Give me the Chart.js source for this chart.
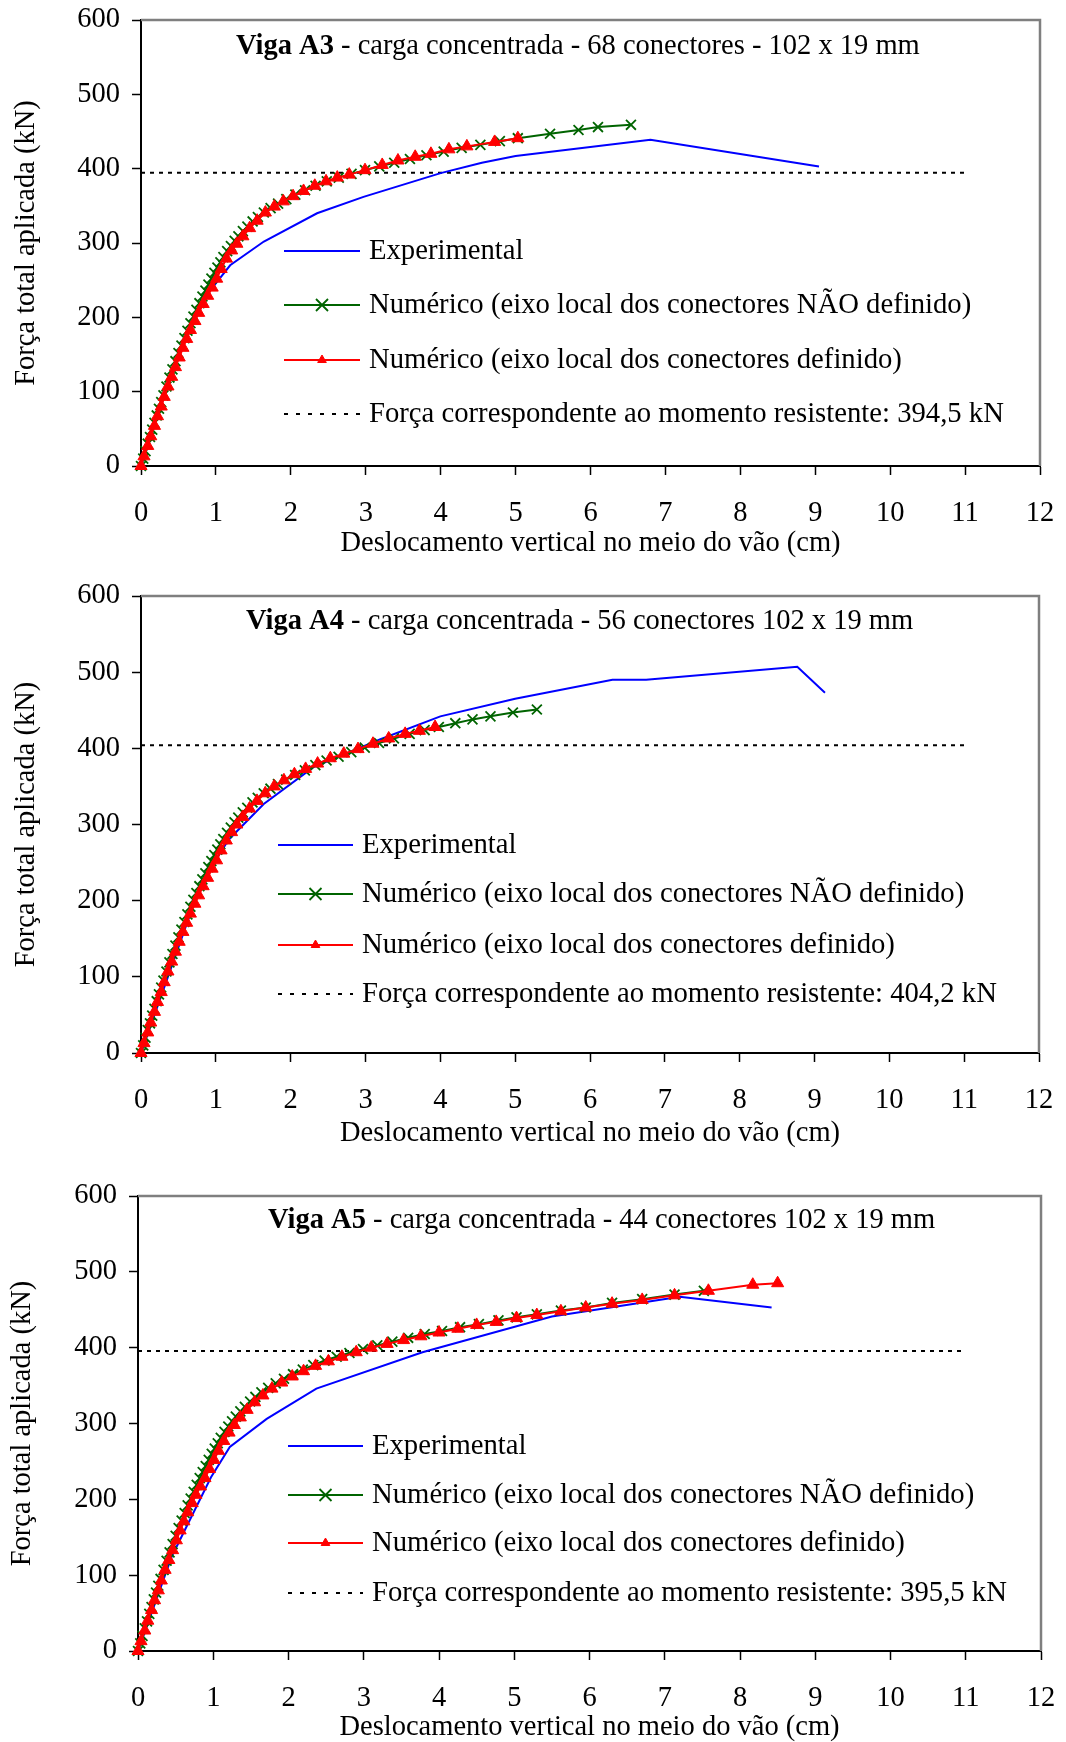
<!DOCTYPE html>
<html>
<head>
<meta charset="utf-8">
<script src="https://cdn.jsdelivr.net/npm/chart.js@4.4.1/dist/chart.umd.min.js"></script>
<style>
  html, body { margin: 0; padding: 0; background: #fff; overflow: hidden; width: 1066px; height: 1742px; }
  .box { position: absolute; left: 0; width: 1066px; }
</style>
</head>
<body>
<div class="box" style="top:0;height:575px"><canvas id="vigaA3"></canvas></div>
<div class="box" style="top:575px;height:590px"><canvas id="vigaA4"></canvas></div>
<div class="box" style="top:1165px;height:594px"><canvas id="vigaA5"></canvas></div>
<script>
/* --- data --- */

const xTicks = [0, 1, 2, 3, 4, 5, 6, 7, 8, 9, 10, 11, 12];
const yTicks = [0, 100, 200, 300, 400, 500, 600];

const xTitle = 'Deslocamento vertical no meio do vão (cm)';
const yTitle = 'Força total aplicada (kN)';
const seriesLabels = [
    'Experimental',
    'Numérico (eixo local dos conectores NÃO definido)',
    'Numérico (eixo local dos conectores definido)'
];
const refLabel = 'Força correspondente ao momento resistente: ';
const refLineEnd = 11;

// Viga A3
const a3Title = ['Viga A3', ' - carga concentrada - 68 conectores - 102 x 19 mm'];
const a3Moment = 394.5;
const a3ExpX = [0, 0.44, 0.70, 0.93, 1.19, 1.64, 2.35, 2.97, 4.0, 4.55, 5.0, 6.8, 9.05];
const a3ExpY = [0, 134, 201, 237, 270, 302, 340, 362, 394, 408, 417, 439, 403];
const a3NaoX = [0, 0.03, 0.06, 0.09, 0.12, 0.15, 0.18, 0.21, 0.24, 0.27, 0.30, 0.34, 0.38, 0.42, 0.46, 0.50,
    0.54, 0.58, 0.62, 0.66, 0.70, 0.74, 0.78, 0.82, 0.86, 0.90, 0.94, 0.98, 1.02, 1.06, 1.10, 1.15, 1.20,
    1.25, 1.30, 1.36, 1.42, 1.49, 1.56, 1.64, 1.73, 1.83, 1.94, 2.06, 2.19, 2.33, 2.48, 2.64, 2.81, 2.99,
    3.18, 3.38, 3.59, 3.81, 4.04, 4.28, 4.53, 4.79, 5.03, 5.46, 5.84, 6.10, 6.54];
const a3NaoY = [0, 10, 20, 30, 39, 49, 58, 68, 77, 86, 95, 107, 119, 130, 141, 152,
    162, 172, 182, 192, 201, 210, 219, 228, 236, 244, 252, 260, 267, 274, 281, 289, 296,
    303, 309, 316, 322, 329, 335, 341, 347, 353, 359, 365, 371, 377, 383, 388, 393, 398,
    403, 408, 413, 418, 423, 428, 432, 437, 441, 447, 452, 456, 459];
const a3DefX = [0, 0.04, 0.09, 0.13, 0.18, 0.22, 0.27, 0.31, 0.36, 0.41, 0.46, 0.51, 0.56, 0.61, 0.66, 0.72,
    0.77, 0.83, 0.89, 0.95, 1.01, 1.07, 1.14, 1.21, 1.28, 1.36, 1.45, 1.55, 1.66, 1.78, 1.90, 2.03, 2.17,
    2.32, 2.47, 2.62, 2.78, 2.99, 3.22, 3.43, 3.66, 3.87, 4.11, 4.35, 4.72, 5.03];
const a3DefY = [0, 13, 27, 40, 54, 67, 80, 93, 107, 120, 133, 146, 159, 171, 183, 195,
    206, 218, 229, 240, 252, 265, 279, 290, 299, 309, 320, 330, 341, 349, 356, 363, 370,
    377, 383, 388, 392, 398, 405, 411, 416, 420, 426, 430, 436, 441];

// Viga A4
const a4Title = ['Viga A4', ' - carga concentrada - 56 conectores 102 x 19 mm'];
const a4Moment = 404.2;
const a4ExpX = [0, 0.45, 0.80, 1.17, 1.64, 2.30, 3.20, 4.0, 5.0, 6.3, 6.75, 8.77, 9.14];
const a4ExpY = [0, 125, 222, 280, 327, 375, 412, 442, 465, 490, 490, 507, 473];
const a4NaoX = [0, 0.03, 0.06, 0.09, 0.12, 0.15, 0.18, 0.21, 0.24, 0.27, 0.30, 0.34, 0.38, 0.42, 0.46, 0.50,
    0.54, 0.58, 0.62, 0.66, 0.70, 0.74, 0.78, 0.82, 0.86, 0.90, 0.94, 0.98, 1.02, 1.06, 1.10, 1.15, 1.20,
    1.25, 1.30, 1.36, 1.42, 1.49, 1.56, 1.64, 1.73, 1.83, 1.94, 2.06, 2.19, 2.33, 2.48, 2.64, 2.81, 2.99,
    3.18, 3.38, 3.59, 3.79, 3.98, 4.20, 4.43, 4.67, 4.97, 5.29];
const a4NaoY = [0, 10, 20, 30, 39, 49, 58, 68, 77, 86, 95, 107, 119, 130, 141, 152,
    162, 172, 182, 192, 201, 210, 219, 228, 236, 244, 252, 260, 267, 274, 281, 289, 296,
    303, 309, 316, 322, 329, 335, 341, 347, 353, 359, 365, 371, 378, 384, 389, 395, 401,
    407, 413, 419, 424, 428, 433, 438, 442, 447, 451];
const a4DefX = [0, 0.04, 0.09, 0.13, 0.18, 0.22, 0.27, 0.31, 0.36, 0.41, 0.46, 0.51, 0.56, 0.61, 0.66, 0.72,
    0.77, 0.83, 0.89, 0.95, 1.01, 1.07, 1.14, 1.21, 1.28, 1.36, 1.45, 1.55, 1.66, 1.78, 1.91, 2.05, 2.20,
    2.36, 2.53, 2.71, 2.90, 3.10, 3.31, 3.53, 3.72, 3.93];
const a4DefY = [0, 13, 27, 40, 54, 67, 80, 93, 107, 120, 133, 146, 159, 171, 183, 196,
    207, 219, 230, 242, 253, 266, 279, 290, 300, 310, 321, 331, 341, 350, 358, 366, 373,
    380, 387, 393, 399, 406, 413, 419, 423, 428];

// Viga A5
const a5Title = ['Viga A5', ' - carga concentrada - 44 conectores 102 x 19 mm'];
const a5Moment = 395.5;
const a5ExpX = [0, 0.45, 0.97, 1.22, 1.71, 2.37, 3.78, 5.5, 7.2, 8.42];
const a5ExpY = [0, 125, 229, 269, 306, 346, 394, 441, 467, 453];
const a5NaoX = [0, 0.03, 0.06, 0.09, 0.12, 0.15, 0.18, 0.21, 0.24, 0.27, 0.30, 0.34, 0.38, 0.42, 0.46, 0.50,
    0.54, 0.58, 0.62, 0.66, 0.70, 0.74, 0.78, 0.82, 0.86, 0.90, 0.94, 0.98, 1.02, 1.06, 1.10, 1.15, 1.20,
    1.25, 1.30, 1.36, 1.42, 1.49, 1.56, 1.64, 1.73, 1.83, 1.94, 2.06, 2.19, 2.33, 2.48, 2.64, 2.81, 2.99,
    3.18, 3.38, 3.59, 3.81, 4.04, 4.28, 4.53, 4.79, 5.03, 5.30, 5.62, 5.95, 6.30, 6.70, 7.13, 7.52];
const a5NaoY = [0, 10, 20, 30, 39, 49, 58, 68, 77, 86, 95, 107, 119, 130, 141, 152,
    162, 172, 182, 192, 201, 210, 219, 228, 236, 244, 252, 260, 267, 274, 281, 289, 296,
    303, 309, 316, 322, 329, 335, 341, 347, 353, 359, 365, 371, 377, 383, 388, 393, 398,
    403, 408, 413, 418, 422, 427, 431, 436, 440, 444, 449, 453, 459, 464, 470, 475];
const a5DefX = [0, 0.04, 0.09, 0.13, 0.18, 0.22, 0.27, 0.31, 0.36, 0.41, 0.46, 0.51, 0.56, 0.61, 0.66, 0.72,
    0.77, 0.83, 0.89, 0.95, 1.01, 1.07, 1.14, 1.21, 1.28, 1.36, 1.45, 1.55, 1.66, 1.78, 1.91, 2.05, 2.20,
    2.36, 2.53, 2.71, 2.90, 3.10, 3.31, 3.53, 3.76, 4.00, 4.25, 4.50, 4.76, 5.03, 5.30, 5.62, 5.95, 6.30,
    6.70, 7.13, 7.58, 8.17, 8.50];
const a5DefY = [0, 13, 27, 40, 54, 67, 80, 93, 107, 120, 133, 146, 159, 171, 183, 195,
    206, 217, 228, 240, 252, 264, 277, 288, 298, 308, 318, 328, 337, 346, 354, 362, 369,
    376, 382, 388, 394, 400, 405, 410, 415, 420, 425, 430, 434, 439, 443, 448, 453, 458,
    463, 469, 475, 483, 485];

/* --- drawing --- */

const FONT = '"Liberation Serif", "Times New Roman", serif';
const FS = 28.5;
Chart.defaults.font.family = FONT;
Chart.defaults.color = '#000';

const toPoints = (xs, ys) => xs.map((x, i) => ({ x: x, y: ys[i] }));

// gray top/right frame, black left/bottom come from the axes
const framePlugin = {
    id: 'frame',
    beforeDatasetsDraw(chart) {
        const { ctx, chartArea: a } = chart;
        ctx.save();
        ctx.strokeStyle = '#7f7f7f';
        ctx.lineWidth = 2.5;
        ctx.beginPath();
        ctx.moveTo(a.left, a.top);
        ctx.lineTo(a.right, a.top);
        ctx.lineTo(a.right, a.bottom);
        ctx.stroke();
        ctx.restore();
    }
};

const titlePlugin = {
    id: 'vigaTitle',
    afterDraw(chart, args, opts) {
        const ctx = chart.ctx;
        ctx.save();
        ctx.fillStyle = '#000';
        ctx.textBaseline = 'middle';
        ctx.font = 'bold ' + FS + 'px ' + FONT;
        ctx.fillText(opts.text[0], opts.x, opts.y);
        const w = ctx.measureText(opts.text[0]).width;
        ctx.font = FS + 'px ' + FONT;
        ctx.fillText(opts.text[1], opts.x + w, opts.y);
        ctx.restore();
    }
};

const legendPlugin = {
    id: 'innerLegend',
    afterDraw(chart, args, opts) {
        const ctx = chart.ctx;
        ctx.save();
        chart.data.datasets.forEach((ds, i) => {
            const y = opts.rows[i];
            ctx.beginPath();
            ctx.setLineDash(ds.legendDash || []);
            ctx.strokeStyle = ds.borderColor;
            ctx.lineWidth = ds.borderWidth;
            ctx.moveTo(opts.x0, y);
            ctx.lineTo(opts.x1, y);
            ctx.stroke();
            ctx.setLineDash([]);
            if (ds.pointRadius > 0) {
                ctx.fillStyle = ds.pointBackgroundColor;
                ctx.strokeStyle = ds.pointBorderColor;
                ctx.lineWidth = ds.pointBorderWidth;
                Chart.helpers.drawPoint(ctx, {
                    pointStyle: ds.pointStyle,
                    radius: ds.legendRadius,
                    rotation: 0,
                    borderWidth: ds.pointBorderWidth
                }, (opts.x0 + opts.x1) / 2, y);
            }
            ctx.fillStyle = '#000';
            ctx.font = '28.7px ' + FONT;
            ctx.textBaseline = 'middle';
            ctx.fillText(ds.label, opts.textX, y);
        });
        ctx.restore();
    }
};

function makeBeam(id, cfg) {
    const ctx = document.getElementById(id);
    return new Chart(ctx, {
        type: 'line',
        data: {
            datasets: [{
                label: seriesLabels[0],
                data: toPoints(cfg.expX, cfg.expY),
                borderColor: '#0000ff',
                borderWidth: 2,
                pointRadius: 0,
                tension: 0,
                order: 3,
                clip: false
            }, {
                label: seriesLabels[1],
                data: toPoints(cfg.naoX, cfg.naoY),
                borderColor: '#006400',
                borderWidth: 2,
                pointStyle: 'crossRot',
                pointRadius: 7,
                pointBorderWidth: 1.8,
                pointBorderColor: '#006400',
                pointBackgroundColor: '#006400',
                legendRadius: 8.5,
                tension: 0,
                order: 2,
                clip: false
            }, {
                label: seriesLabels[2],
                data: toPoints(cfg.defX, cfg.defY),
                borderColor: '#ff0000',
                borderWidth: 2,
                pointStyle: 'triangle',
                pointRadius: 7,
                pointBorderWidth: 1,
                pointBorderColor: '#ff0000',
                pointBackgroundColor: '#ff0000',
                legendRadius: 5,
                tension: 0,
                order: 1,
                clip: false
            }, {
                label: refLabel + cfg.momentText,
                data: [{ x: 0, y: cfg.moment }, { x: refLineEnd, y: cfg.moment }],
                borderColor: '#000',
                borderWidth: 2,
                borderDash: [4, 5],
                legendDash: [4, 8],
                pointRadius: 0,
                order: 4
            }]
        },
        options: {
            responsive: true,
            maintainAspectRatio: false,
            animation: false,
            events: [],
            layout: { padding: { top: cfg.padTop, right: cfg.padRight, left: 0, bottom: 0 } },
            plugins: {
                legend: { display: false },
                tooltip: { enabled: false },
                vigaTitle: { text: cfg.title, x: cfg.titleX, y: cfg.titleY },
                innerLegend: cfg.legend
            },
            scales: {
                x: {
                    type: 'linear',
                    min: 0,
                    max: 12,
                    afterBuildTicks: axis => { axis.ticks = xTicks.map(v => ({ value: v })); },
                    afterFit: axis => {
                        axis.height = cfg.xHeight;
                        axis.paddingLeft = 0; axis.paddingRight = 0;
                    },
                    grid: { drawOnChartArea: false, drawTicks: true, tickLength: 9, tickColor: '#000', tickWidth: 1.5 },
                    border: { display: true, color: '#000', width: 2 },
                    ticks: { font: { size: FS }, color: '#000', padding: 21, maxRotation: 0, autoSkip: false },
                    title: { display: true, text: xTitle, font: { size: FS }, color: '#000', padding: { top: 0, bottom: 14 } }
                },
                y: {
                    type: 'linear',
                    min: 0,
                    max: 600,
                    afterBuildTicks: axis => { axis.ticks = yTicks.map(v => ({ value: v })); },
                    afterFit: axis => {
                        axis.width = cfg.yWidth;
                        axis.paddingTop = 0; axis.paddingBottom = 0;
                    },
                    grid: { drawOnChartArea: false, drawTicks: true, tickLength: 9, tickColor: '#000', tickWidth: 1.5 },
                    border: { display: true, color: '#000', width: 2 },
                    ticks: { font: { size: FS }, color: '#000', padding: 12, autoSkip: false },
                    title: { display: true, text: yTitle, font: { size: FS }, color: '#000', padding: { top: cfg.yTitlePad, bottom: 0 } }
                }
            }
        },
        plugins: [framePlugin, titlePlugin, legendPlugin]
    });
}

makeBeam('vigaA3', {
    title: a3Title, moment: a3Moment, momentText: '394,5 kN',
    expX: a3ExpX, expY: a3ExpY, naoX: a3NaoX, naoY: a3NaoY, defX: a3DefX, defY: a3DefY,
    padTop: 20, padRight: 26, xHeight: 109, yWidth: 141, yTitlePad: 9,
    titleX: 236, titleY: 47,
    legend: { x0: 284, x1: 360, textX: 369, rows: [251, 305, 360, 414] }
});

makeBeam('vigaA4', {
    title: a4Title, moment: a4Moment, momentText: '404,2 kN',
    expX: a4ExpX, expY: a4ExpY, naoX: a4NaoX, naoY: a4NaoY, defX: a4DefX, defY: a4DefY,
    padTop: 21, padRight: 27, xHeight: 112, yWidth: 141, yTitlePad: 9,
    titleX: 246, titleY: 47,
    legend: { x0: 278, x1: 353, textX: 362, rows: [270, 319, 370, 419] }
});

makeBeam('vigaA5', {
    title: a5Title, moment: a5Moment, momentText: '395,5 kN',
    expX: a5ExpX, expY: a5ExpY, naoX: a5NaoX, naoY: a5NaoY, defX: a5DefX, defY: a5DefY,
    padTop: 31, padRight: 25, xHeight: 108, yWidth: 138, yTitlePad: 5,
    titleX: 268, titleY: 56,
    legend: { x0: 288, x1: 363, textX: 372, rows: [281, 330, 378, 428] }
});
</script>
</body>
</html>
